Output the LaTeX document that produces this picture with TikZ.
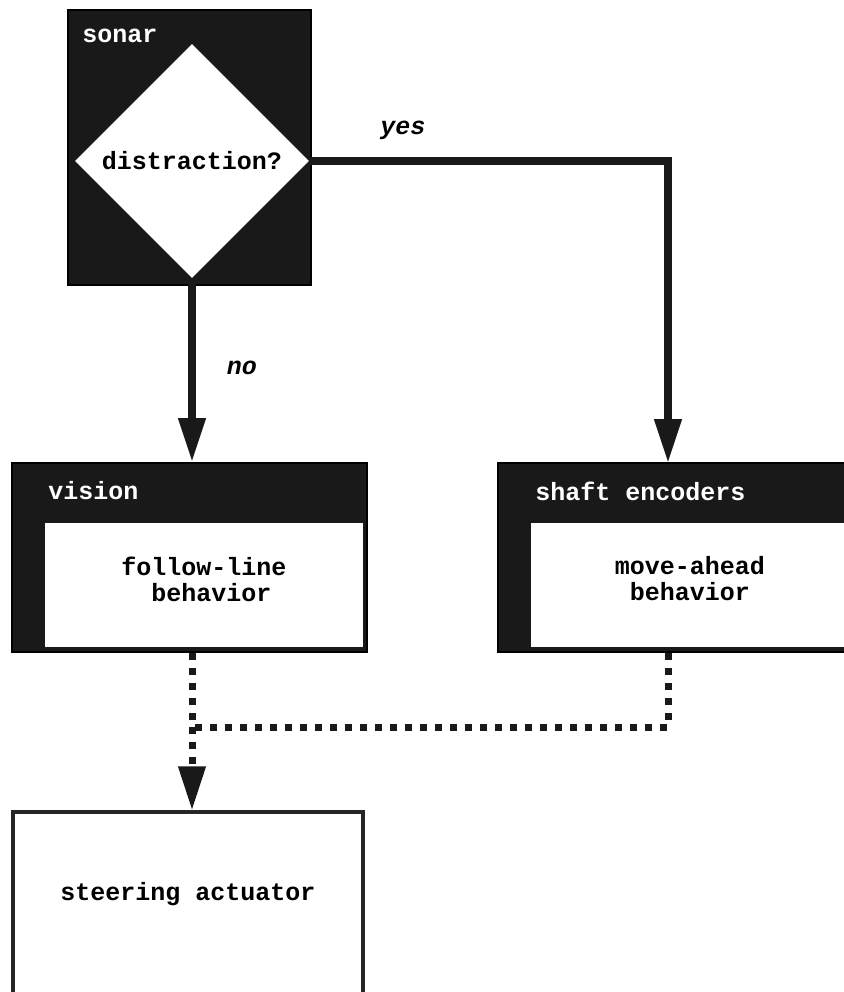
\documentclass[tikz,border=0pt]{standalone}
\usepackage{fontspec}
\setmonofont{Liberation Mono}
\usetikzlibrary{arrows.meta,shapes.geometric,positioning}

\tikzset{
  lbl/.style={font=\fontsize{12.5}{13}\selectfont\ttfamily\bfseries, inner sep=0pt, align=center},
  whitelbl/.style={lbl, text=white},
  answer/.style={lbl, font=\fontsize{12.5}{13}\selectfont\ttfamily\bfseries\itshape},
  sensorbox/.style={draw=black, fill=black!90, line width=1pt, inner sep=0pt},
  behavbox/.style={fill=white, inner sep=0pt},
  actbox/.style={draw=black!85, fill=white, line width=1.6pt, inner sep=0pt},
  flowline/.style={line width=3.8pt, black!90, -{Triangle[length=22pt,width=13pt]}},
  dotline/.style={line width=3.5pt, black!90, dash pattern=on 3.5pt off 4pt}
}

\begin{document}
\begin{tikzpicture}[x=0.5pt, y=-0.5pt]
			%%%%% START %%%%%
			\useasboundingbox (0,0) rectangle (844,992);
			\clip (0,0) rectangle (844,992);
			
			% sonar test
			\node[sensorbox, minimum width=121.5pt, minimum height=137.5pt] (sonar) at (189.5,147.5) {};
			\node[whitelbl, anchor=west] (sonarlbl) at (82,36) {sonar};
			\node[diamond, fill=white, minimum width=117pt, minimum height=117pt, lbl] (distract) at (192,161) {distraction?};
			
			% behaviors
			\node[sensorbox, minimum width=177.5pt, minimum height=94.5pt] (vision) at (189.5,557.5) {};
			\node[whitelbl, anchor=west] (visionlbl) at (48,491) {vision};
			\node[behavbox, minimum width=159pt, minimum height=62pt,
				label={[lbl, yshift=3pt]center:follow-line\\\hspace*{7.5pt}behavior}] (followline) at (204,585) {};
			
			\node[sensorbox, minimum width=177.5pt, minimum height=94.5pt] (shaft) at (675.5,557.5) {};
			\node[whitelbl, anchor=west] (shaftlbl) at (535,491) {shaft encoders};
			\node[behavbox, minimum width=159pt, minimum height=62pt,
				label={[lbl, yshift=3pt]center:move-ahead\\behavior}] (moveahead) at (690,585) {};
			
			% actuator
			\node[actbox, minimum width=175pt, minimum height=94pt,
				label={[lbl, yshift=6pt]center:steering actuator}] (steer) at (188,906) {};
			
			% connectors
			\coordinate (movein) at (668,463);
			\coordinate (merge) at (192,727);
			
			\draw[flowline] (distract.east) -| (movein);
			\draw[flowline] (distract.south) -- (distract.south |- vision.north);
			\node[answer] (yes) at (403,130) {yes};
			\node[answer] (no) at (242,368) {no};
			
			\draw[dotline] (distract.south |- vision.south) -- (merge);
			\draw[dotline] (movein |- shaft.south) |- (merge);
			\draw[dotline, -{Triangle[length=22pt,width=13pt]}] (merge) -- (merge |- steer.north);
			
			%%%%% END %%%%%
\end{tikzpicture}
\end{document}
